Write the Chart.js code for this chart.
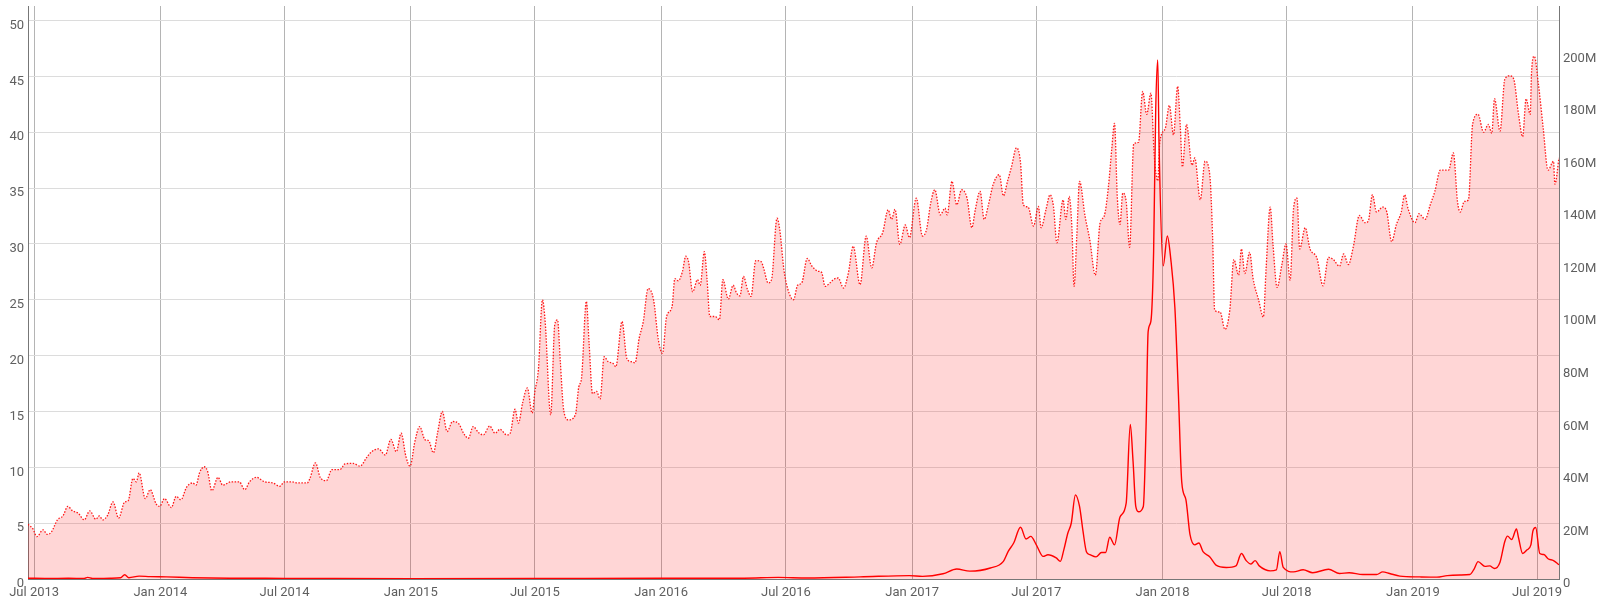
<!DOCTYPE html>
<html>
<head>
<meta charset="utf-8">
<script src="https://cdn.jsdelivr.net/npm/chart.js@4.4.1/dist/chart.umd.min.js"></script>
<style>
  html, body { margin: 0; padding: 0; background: #fff; }
  #wrap { width: 1600px; height: 605px; }
</style>
</head>
<body>
<div id="wrap"><canvas id="chart"></canvas></div>
<script>
// =========================
// DATA
// =========================

// dotted, filled series (left axis)
const areaDates = [
  '2013-06-22','2013-06-29','2013-07-05','2013-07-14','2013-07-20','2013-07-26','2013-08-04','2013-08-12',
  '2013-08-19','2013-08-26','2013-09-03','2013-09-12','2013-09-20','2013-09-29','2013-10-04','2013-10-09',
  '2013-10-16','2013-10-24','2013-11-01','2013-11-10','2013-11-15','2013-11-22','2013-11-27','2013-12-01',
  '2013-12-10','2013-12-17','2013-12-26','2013-12-31','2014-01-07','2014-01-17','2014-01-24','2014-01-31',
  '2014-02-08','2014-02-17','2014-02-22','2014-02-27','2014-03-06','2014-03-11','2014-03-17','2014-03-26',
  '2014-04-02','2014-04-14','2014-04-26','2014-05-04','2014-05-11','2014-05-21','2014-06-02','2014-06-14',
  '2014-06-24','2014-07-01','2014-07-11','2014-07-20','2014-07-30','2014-08-03','2014-08-07','2014-08-15',
  '2014-08-22','2014-08-31','2014-09-08','2014-09-20','2014-09-27','2014-10-09','2014-10-19','2014-10-29',
  '2014-11-05','2014-11-15','2014-11-25','2014-12-03','2014-12-11','2014-12-18','2014-12-25','2014-12-31',
  '2015-01-07','2015-01-14','2015-01-22','2015-01-27','2015-02-03','2015-02-09','2015-02-16','2015-02-23',
  '2015-03-03','2015-03-12','2015-03-19','2015-03-26','2015-04-02','2015-04-10','2015-04-17','2015-04-26',
  '2015-05-04','2015-05-11','2015-05-21','2015-05-26','2015-06-02','2015-06-07','2015-06-13','2015-06-20',
  '2015-06-27','2015-07-01','2015-07-06','2015-07-12','2015-07-16','2015-07-24','2015-07-30','2015-08-03',
  '2015-08-07','2015-08-12','2015-08-19','2015-08-29','2015-09-03','2015-09-07','2015-09-14','2015-09-18',
  '2015-09-23','2015-09-29','2015-10-04','2015-10-10','2015-10-16','2015-10-23','2015-10-27','2015-11-05',
  '2015-11-12','2015-11-19','2015-11-24','2015-11-30','2015-12-06','2015-12-13','2015-12-21','2015-12-28',
  '2016-01-03','2016-01-09','2016-01-17','2016-01-21','2016-01-26','2016-02-01','2016-02-06','2016-02-10',
  '2016-02-16','2016-02-23','2016-02-27','2016-03-04','2016-03-08','2016-03-12','2016-03-20','2016-03-26',
  '2016-03-31','2016-04-08','2016-04-15','2016-04-20','2016-04-25','2016-04-30','2016-05-06','2016-05-11',
  '2016-05-18','2016-05-26','2016-05-30','2016-06-05','2016-06-10','2016-06-18','2016-06-22','2016-06-28',
  '2016-07-04','2016-07-12','2016-07-18','2016-07-24','2016-08-01','2016-08-08','2016-08-17','2016-08-22',
  '2016-08-27','2016-09-03','2016-09-08','2016-09-15','2016-09-23','2016-09-30','2016-10-07','2016-10-17',
  '2016-10-26','2016-11-03','2016-11-10','2016-11-19','2016-11-27','2016-12-02','2016-12-07','2016-12-14',
  '2016-12-22','2016-12-28','2017-01-07','2017-01-16','2017-01-22','2017-01-28','2017-02-03','2017-02-11',
  '2017-02-18','2017-02-21','2017-02-28','2017-03-07','2017-03-14','2017-03-22','2017-03-29','2017-04-03',
  '2017-04-10','2017-04-16','2017-04-22','2017-04-29','2017-05-08','2017-05-14','2017-05-20','2017-05-26',
  '2017-06-02','2017-06-08','2017-06-12','2017-06-19','2017-06-27','2017-07-04','2017-07-08','2017-07-15',
  '2017-07-21','2017-07-26','2017-07-31','2017-08-09','2017-08-13','2017-08-18','2017-08-22','2017-08-25',
  '2017-08-29','2017-09-02','2017-09-10','2017-09-17','2017-09-25','2017-10-02','2017-10-08','2017-10-14',
  '2017-10-19','2017-10-23','2017-10-27','2017-10-31','2017-11-04','2017-11-09','2017-11-14','2017-11-20',
  '2017-11-27','2017-12-03','2017-12-09','2017-12-15','2017-12-20','2017-12-25','2017-12-28','2018-01-05',
  '2018-01-11','2018-01-17','2018-01-23','2018-01-27','2018-01-30','2018-02-05','2018-02-13','2018-02-17',
  '2018-02-25','2018-03-04','2018-03-11','2018-03-15','2018-03-18','2018-03-26','2018-04-02','2018-04-09',
  '2018-04-15','2018-04-22','2018-04-26','2018-05-01','2018-05-08','2018-05-13','2018-05-21','2018-05-28',
  '2018-06-01','2018-06-07','2018-06-11','2018-06-17','2018-06-24','2018-06-30','2018-07-06','2018-07-11',
  '2018-07-16','2018-07-20','2018-07-28','2018-08-04','2018-08-14','2018-08-23','2018-08-31','2018-09-07',
  '2018-09-16','2018-09-22','2018-09-29','2018-10-06','2018-10-15','2018-10-23','2018-10-28','2018-11-03',
  '2018-11-09','2018-11-18','2018-11-24','2018-12-01','2018-12-08','2018-12-15','2018-12-20','2018-12-25',
  '2019-01-04','2019-01-10','2019-01-19','2019-01-26','2019-02-02','2019-02-10','2019-02-17','2019-02-22',
  '2019-03-01','2019-03-07','2019-03-11','2019-03-17','2019-03-23','2019-03-29','2019-04-06','2019-04-14',
  '2019-04-21','2019-04-26','2019-04-30','2019-05-08','2019-05-15','2019-05-22','2019-05-28','2019-06-04',
  '2019-06-10','2019-06-15','2019-06-21','2019-06-23','2019-06-27','2019-07-03','2019-07-10','2019-07-17',
  '2019-07-25','2019-07-27','2019-08-02'
];

const areaValues = [
  4.9, 4.5, 3.8, 4.4, 4.0, 4.2, 5.3, 5.65,
  6.5, 6.1, 5.9, 5.3, 6.1, 5.35, 5.65, 5.3,
  5.7, 6.9, 5.45, 6.9, 7.0, 9.0, 8.7, 9.5,
  7.2, 8.0, 6.7, 6.5, 7.2, 6.4, 7.4, 7.1,
  8.2, 8.6, 8.4, 9.5, 10.05, 9.6, 7.9, 9.1,
  8.4, 8.7, 8.7, 8.0, 8.7, 9.1, 8.7, 8.6,
  8.3, 8.7, 8.7, 8.6, 8.6, 8.6, 9.0, 10.4,
  9.1, 8.8, 9.8, 9.8, 10.3, 10.35, 10.1, 10.9,
  11.4, 11.65, 11.1, 12.5, 11.4, 13.05, 10.95, 10.1,
  12.3, 13.65, 12.45, 12.4, 11.3, 13.05, 15.0, 13.2,
  14.1, 13.9, 13.05, 12.6, 13.65, 13.1, 12.9, 13.7,
  13.05, 13.4, 12.9, 13.05, 15.2, 13.95, 15.75, 17.1,
  14.85, 16.8, 18.7, 25.0, 23.0, 14.7, 22.8, 23.2,
  19.5, 15.1, 14.25, 14.7, 17.2, 18.0, 24.85, 21.1,
  16.6, 16.8, 16.1, 19.9, 19.45, 19.3, 19.0, 23.05,
  19.75, 19.45, 19.35, 21.55, 23.05, 26.0, 25.0, 21.4,
  20.2, 23.5, 24.4, 26.9, 26.7, 27.5, 28.9, 28.4,
  25.7, 26.8, 26.3, 29.3, 26.8, 23.5, 23.5, 23.2,
  26.8, 25.05, 26.3, 25.6, 25.35, 27.1, 25.9, 25.3,
  28.5, 28.4, 27.7, 26.5, 26.8, 32.3, 31.25, 27.7,
  25.9, 25.0, 26.3, 26.5, 28.7, 28.0, 27.55, 27.45,
  26.2, 26.5, 26.8, 26.95, 26.05, 27.4, 29.8, 26.35,
  30.7, 27.85, 30.1, 31.0, 33.05, 32.2, 33.1, 29.95,
  31.7, 30.55, 34.1, 30.7, 31.3, 33.65, 34.85, 32.6,
  33.2, 32.6, 35.6, 33.5, 34.85, 34.1, 31.45, 33.05,
  34.7, 32.2, 33.45, 35.3, 36.2, 34.3, 35.6, 36.95,
  38.6, 37.25, 33.5, 33.3, 31.6, 33.35, 31.45, 33.05,
  34.4, 33.35, 30.1, 33.95, 32.2, 34.25, 31.3, 26.2,
  30.7, 35.6, 32.5, 30.35, 27.2, 31.9, 32.5, 35.05,
  38.5, 40.8, 34.25, 31.75, 34.55, 33.8, 29.7, 38.95,
  39.1, 43.65, 41.6, 43.5, 37.85, 35.65, 39.1, 40.35,
  42.4, 39.75, 44.1, 40.35, 36.9, 40.7, 37.05, 37.7,
  33.95, 37.4, 36.1, 30.65, 24.05, 23.9, 22.35, 24.05,
  28.6, 27.2, 29.55, 27.35, 29.25, 26.9, 25.0, 23.45,
  27.8, 33.3, 30.0, 26.1, 28.15, 30.0, 26.75, 33.15,
  34.1, 29.55, 31.45, 29.55, 28.75, 26.25, 28.8, 28.6,
  28.0, 29.1, 28.15, 29.7, 32.55, 31.9, 32.05, 34.4,
  32.85, 33.3, 32.85, 30.2, 31.75, 32.85, 34.4, 33.15,
  31.9, 32.7, 32.2, 33.45, 34.7, 36.6, 36.6, 36.6,
  38.15, 33.8, 32.85, 33.8, 33.95, 40.7, 41.6, 40.0,
  40.7, 39.9, 43.0, 40.1, 44.75, 45.05, 44.75, 41.6,
  39.6, 43.0, 41.6, 45.4, 46.8, 44.3, 40.35, 36.6,
  37.4, 35.35, 37.7
];

// solid series (right axis, millions)
const lineDates = [
  '2013-06-22','2013-07-20','2013-08-20','2013-09-12','2013-09-17','2013-09-24','2013-10-20','2013-11-04',
  '2013-11-10','2013-11-16','2013-12-01','2013-12-17','2014-01-10','2014-02-17','2014-04-12','2014-07-01',
  '2015-01-01','2015-07-01','2016-01-01','2016-05-01','2016-06-20','2016-08-01','2016-10-17','2016-12-28',
  '2017-01-16','2017-02-15','2017-03-07','2017-03-26','2017-04-25','2017-05-14','2017-05-21','2017-05-29',
  '2017-06-08','2017-06-16','2017-06-23','2017-07-01','2017-07-11','2017-07-18','2017-07-30','2017-08-05',
  '2017-08-10','2017-08-16','2017-08-21','2017-08-27','2017-09-02','2017-09-07','2017-09-12','2017-09-17',
  '2017-09-26','2017-10-04','2017-10-10','2017-10-16','2017-10-23','2017-10-31','2017-11-09','2017-11-15',
  '2017-11-19','2017-11-23','2017-11-27','2017-12-04','2017-12-08','2017-12-11','2017-12-15','2017-12-19',
  '2017-12-22','2017-12-25','2017-12-27','2018-01-02','2018-01-08','2018-01-13','2018-01-19','2018-01-24',
  '2018-01-29','2018-02-04','2018-02-10','2018-02-17','2018-02-23','2018-03-01','2018-03-11','2018-03-20',
  '2018-04-04','2018-04-18','2018-04-26','2018-05-03','2018-05-10','2018-05-16','2018-05-22','2018-06-07',
  '2018-06-16','2018-06-21','2018-06-26','2018-07-11','2018-07-25','2018-08-08','2018-08-31','2018-09-16',
  '2018-09-30','2018-10-20','2018-11-09','2018-11-18','2018-11-28','2018-12-13','2019-01-11','2019-02-05',
  '2019-02-20','2019-03-11','2019-03-25','2019-03-31','2019-04-06','2019-04-16','2019-04-23','2019-04-30',
  '2019-05-08','2019-05-15','2019-05-19','2019-05-25','2019-06-01','2019-06-04','2019-06-10','2019-06-16',
  '2019-06-22','2019-06-25','2019-06-29','2019-07-05','2019-07-11','2019-07-17','2019-07-25','2019-08-02'
];

const lineValues = [
  0.3, 0.2, 0.3, 0.2, 0.6, 0.2, 0.3, 0.5,
  1.6, 0.5, 1.1, 0.9, 0.8, 0.5, 0.3, 0.25,
  0.15, 0.2, 0.3, 0.3, 0.6, 0.4, 0.8, 1.3,
  1.0, 2.0, 3.8, 3.0, 4.2, 6.7, 10.5, 13.7,
  19.7, 15.2, 16.2, 13.0, 8.6, 9.2, 8.0, 6.7,
  11.0, 17.5, 21.3, 32.0, 27.6, 18.3, 10.4, 9.3,
  8.4, 10.1, 10.1, 15.9, 13.0, 23.6, 28.9, 58.8,
  44.9, 27.6, 25.6, 27.6, 58.1, 94.0, 98.0, 124.5,
  177.6, 197.5, 164.3, 119.2, 130.5, 121.8, 103.3, 71.4,
  36.9, 30.3, 17.0, 13.0, 13.7, 10.4, 8.4, 5.3,
  4.4, 5.0, 9.7, 7.0, 5.7, 7.0, 5.0, 3.1,
  3.5, 10.4, 4.4, 2.7, 3.5, 2.4, 3.7, 2.1,
  2.4, 1.7, 1.7, 2.7, 2.1, 1.1, 0.8, 0.7,
  1.3, 1.5, 1.7, 3.7, 6.6, 4.8, 5.0, 4.0,
  6.4, 14.3, 16.3, 15.0, 19.0, 15.7, 9.7, 11.0,
  13.0, 18.3, 19.6, 9.7, 9.3, 7.7, 7.0, 5.4
];

// x axis ticks
const tickDates = [
  '2013-07-01','2014-01-01','2014-07-01','2015-01-01','2015-07-01','2016-01-01','2016-07-01',
  '2017-01-01','2017-07-01','2018-01-01','2018-07-01','2019-01-01','2019-07-01'
];
const tickLabels = [
  'Jul 2013','Jan 2014','Jul 2014','Jan 2015','Jul 2015','Jan 2016','Jul 2016',
  'Jan 2017','Jul 2017','Jan 2018','Jul 2018','Jan 2019','Jul 2019'
];

const leftMax = 51.3;
const rightMax = 218;


// =========================
// CHART
// =========================

const font = { family: 'Roboto', size: 13 };
const labelColor = '#5f5f5f';
const axisColor = '#777777';

const toPoints = (dates, values) =>
  dates.map((d, i) => ({ x: Date.parse(d), y: values[i] }));

new Chart(document.getElementById('chart'), {

  type: 'line',

  data: {
    datasets: [
      {
        label: 'line',
        data: toPoints(lineDates, lineValues),
        yAxisID: 'y1',
        borderColor: '#ff0000',
        borderWidth: 1.4,
        pointRadius: 0,
        fill: false,
        cubicInterpolationMode: 'monotone'
      },
      {
        label: 'area',
        data: toPoints(areaDates, areaValues),
        yAxisID: 'y',
        borderColor: 'rgba(255,0,0,0.9)',
        borderWidth: 1.3,
        borderDash: [1.5, 1.5],
        backgroundColor: 'rgba(255,0,0,0.16)',
        pointRadius: 0,
        fill: 'origin',
        cubicInterpolationMode: 'monotone'
      }
    ]
  },

  options: {
    responsive: true,
    maintainAspectRatio: false,
    animation: false,
    devicePixelRatio: 1,
    layout: { padding: { top: 6, left: 0, right: 0, bottom: 0 } },
    plugins: {
      legend: { display: false },
      tooltip: { enabled: false }
    },
    scales: {
      x: {
        type: 'linear',
        min: Date.parse('2013-06-22'),
        max: Date.parse('2019-08-02'),
        afterBuildTicks: s => {
          s.ticks = tickDates.map(d => ({ value: Date.parse(d) }));
        },
        afterFit: s => {
          s.height = 26;
          s.paddingLeft = 0;
          s.paddingRight = 0;
        },
        grid: { color: '#b4b4b4', drawTicks: false },
        border: { color: axisColor },
        ticks: {
          autoSkip: false,
          maxRotation: 0,
          padding: 6,
          color: labelColor,
          font: font,
          callback: (v, i) => tickLabels[i]
        }
      },
      y: {
        position: 'left',
        min: 0,
        max: leftMax,
        afterFit: s => {
          s.width = 28;
          s.paddingTop = 0;
          s.paddingBottom = 0;
        },
        grid: { color: '#dcdcdc', drawTicks: false },
        border: { color: axisColor },
        ticks: {
          stepSize: 5,
          includeBounds: false,
          padding: 4,
          labelOffset: 5,
          color: labelColor,
          font: font
        }
      },
      y1: {
        position: 'right',
        min: 0,
        max: rightMax,
        afterFit: s => {
          s.width = 41;
          s.paddingTop = 0;
          s.paddingBottom = 0;
        },
        grid: { display: false, drawTicks: false },
        border: { color: axisColor },
        ticks: {
          stepSize: 20,
          includeBounds: false,
          padding: 4,
          labelOffset: 5,
          color: labelColor,
          font: font,
          callback: v => (v === 0 ? '0' : v + 'M')
        }
      }
    }
  }
});
</script>
</body>
</html>
